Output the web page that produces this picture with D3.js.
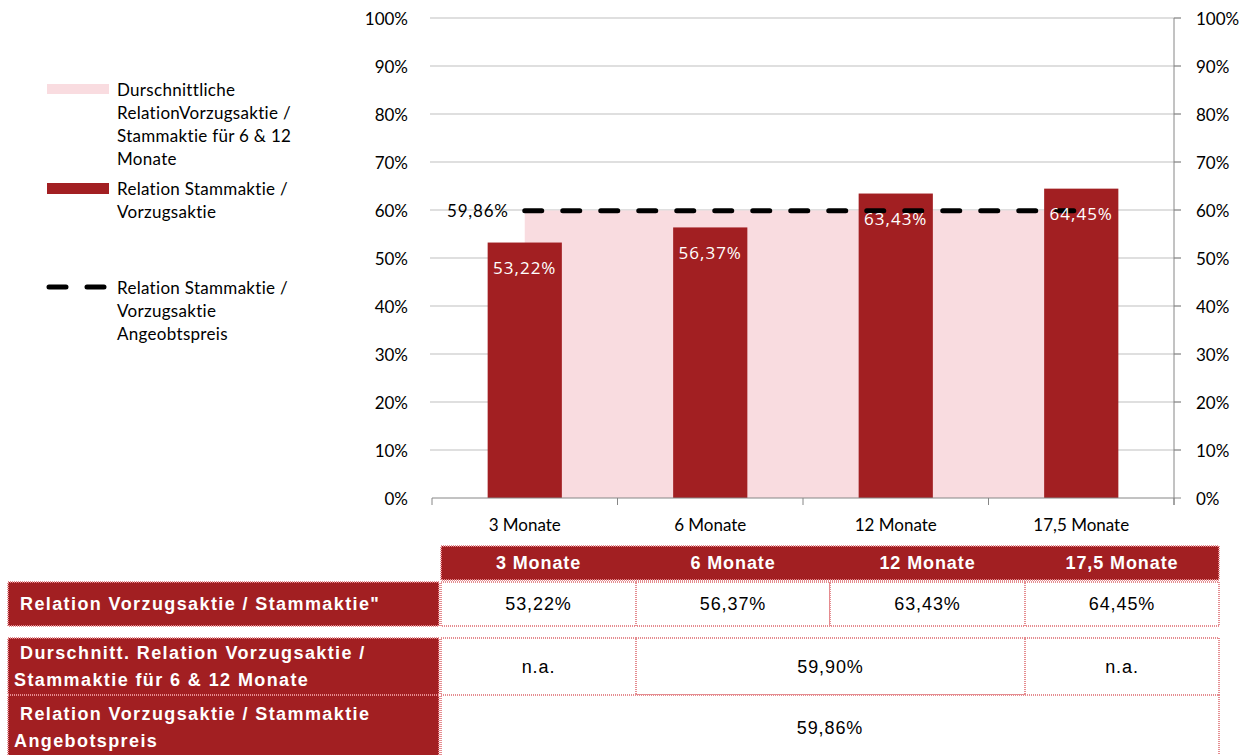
<!DOCTYPE html>
<html>
<head>
<meta charset="utf-8">
<script src="https://cdn.jsdelivr.net/npm/d3@7"></script>
<style>
  body { margin: 0; background: #fff; }
  svg { display: block; }
  .chart text { font-family: Lato, "Open Sans", sans-serif; font-size: 17px; fill: #000; }
  .chart text.barlabel { font-family: "Open Sans", sans-serif; font-size: 17px; letter-spacing: 1px; }
  .tbl text { font-family: "Liberation Sans", Arial, sans-serif; font-size: 18px; letter-spacing: 0.9px; }
  .tbl text.rowlabel { letter-spacing: 1.4px; }
</style>
</head>
<body>
<svg id="chart" width="1244" height="755"></svg>
<script>
const width = 1244;
const height = 755;

const categories = ['3 Monate', '6 Monate', '12 Monate', '17,5 Monate'];
const relationValues = [53.22, 56.37, 63.43, 64.45];
const avgValues = [59.90, 59.90, 59.90, 59.90];
const offerValues = [59.86, 59.86, 59.86, 59.86];
const yTicks = [0, 10, 20, 30, 40, 50, 60, 70, 80, 90, 100];

const legendLabels = [
    ['Durschnittliche', 'RelationVorzugsaktie /', 'Stammaktie für 6 & 12', 'Monate'],
    ['Relation Stammaktie /', 'Vorzugsaktie'],
    ['Relation Stammaktie /', 'Vorzugsaktie', 'Angeobtspreis']
];

const rowLabels = [
    ['Relation Vorzugsaktie / Stammaktie"'],
    ['Durschnitt. Relation Vorzugsaktie /', 'Stammaktie für 6 & 12 Monate'],
    ['Relation Vorzugsaktie / Stammaktie', 'Angebotspreis']
];
const avgTableCells = [
    { text: 'n.a.', from: 0, to: 0 },
    { text: '59,90%', from: 1, to: 2 },
    { text: 'n.a.', from: 3, to: 3 }
];
const offerTableCells = [
    { text: '59,86%', from: 0, to: 3 }
];

const red = '#A21F22';
const pink = '#F9DCE0';
const fmt = v => d3.format('.2f')(v).replace('.', ',') + '%';

const svg = d3.select('#chart');
const chart = svg.append('g').attr('class', 'chart');

const xScale = d3.scaleBand().domain(categories).range([432, 1174]).padding(0);
const yScale = d3.scaleLinear().domain([0, 100]).range([498, 18]);
const cx = c => xScale(c) + xScale.bandwidth() / 2;
const barWidth = xScale.bandwidth() * 0.4;

// gridlines
chart.selectAll('.grid')
    .data(yTicks.filter(t => t > 0))
    .enter()
    .append('line')
    .attr('x1', 430)
    .attr('x2', 1181)
    .attr('y1', d => yScale(d))
    .attr('y2', d => yScale(d))
    .attr('stroke', '#BFBFBF')
    .attr('stroke-width', 1);

// average area
chart.append('path')
    .datum(avgValues)
    .attr('fill', pink)
    .attr('d', d3.area()
        .x((d, i) => cx(categories[i]))
        .y0(yScale(0))
        .y1(d => yScale(d)));

// bars
chart.selectAll('.bar')
    .data(relationValues)
    .enter()
    .append('rect')
    .attr('x', (d, i) => cx(categories[i]) - barWidth / 2)
    .attr('y', d => yScale(d))
    .attr('width', barWidth)
    .attr('height', d => yScale(0) - yScale(d))
    .attr('fill', red);

// dashed offer line
chart.append('path')
    .datum(offerValues)
    .attr('fill', 'none')
    .attr('stroke', '#000')
    .attr('stroke-width', 5)
    .attr('stroke-linecap', 'round')
    .attr('stroke-dasharray', '17,21')
    .attr('d', d3.line()
        .x((d, i) => cx(categories[i]))
        .y(d => yScale(d)));

// bar labels
chart.selectAll('.barlabel')
    .data(relationValues)
    .enter()
    .append('text')
    .attr('class', 'barlabel')
    .attr('x', (d, i) => cx(categories[i]))
    .attr('y', d => yScale(d) + 25)
    .attr('text-anchor', 'middle')
    .attr('dominant-baseline', 'central')
    .style('fill', '#fff')
    .text(d => fmt(d));

chart.append('text')
    .attr('x', cx(categories[0]) - 16)
    .attr('y', yScale(offerValues[0]))
    .attr('text-anchor', 'end')
    .attr('dominant-baseline', 'central')
    .style('letter-spacing', '0.8px')
    .text(fmt(offerValues[0]));

// x axis
const xAxis = chart.append('g').attr('transform', `translate(0, ${yScale(0)})`);
xAxis.append('line').attr('x1', 432).attr('x2', 1174).attr('stroke', '#868686');
xAxis.selectAll('.xt')
    .data(d3.range(categories.length + 1))
    .enter()
    .append('line')
    .attr('x1', i => 432 + i * xScale.bandwidth())
    .attr('x2', i => 432 + i * xScale.bandwidth())
    .attr('y1', 0).attr('y2', 7)
    .attr('stroke', '#868686');
xAxis.selectAll('.xl')
    .data(categories)
    .enter()
    .append('text')
    .attr('x', d => cx(d))
    .attr('y', 26)
    .attr('text-anchor', 'middle')
    .attr('dominant-baseline', 'central')
    .text(d => d);

// left labels
chart.selectAll('.yl')
    .data(yTicks)
    .enter()
    .append('text')
    .attr('x', 408)
    .attr('y', d => yScale(d))
    .attr('text-anchor', 'end')
    .attr('dominant-baseline', 'central')
    .text(d => d + '%');

// right axis
chart.append('line')
    .attr('x1', 1174).attr('x2', 1174)
    .attr('y1', yScale(100)).attr('y2', yScale(0) + 7)
    .attr('stroke', '#868686');
chart.selectAll('.yrt')
    .data(yTicks)
    .enter()
    .append('line')
    .attr('x1', 1174).attr('x2', 1181)
    .attr('y1', d => yScale(d)).attr('y2', d => yScale(d))
    .attr('stroke', '#868686');
chart.selectAll('.yr')
    .data(yTicks)
    .enter()
    .append('text')
    .attr('x', 1196)
    .attr('y', d => yScale(d))
    .attr('dominant-baseline', 'central')
    .text(d => d + '%');

// legend
const legend = chart.append('g');
const legendY = [89, 188, 287];
legendLabels.forEach((lines, k) => {
    const g = legend.append('g').attr('transform', `translate(0, ${legendY[k]})`);
    if (k === 0) {
        g.append('rect').attr('x', 47).attr('y', -5).attr('width', 62).attr('height', 10).attr('fill', pink);
    } else if (k === 1) {
        g.append('rect').attr('x', 47).attr('y', -5).attr('width', 62).attr('height', 11).attr('fill', red);
    } else {
        g.append('line').attr('x1', 49).attr('x2', 107).attr('y1', 0).attr('y2', 0)
            .attr('stroke', '#000').attr('stroke-width', 5)
            .attr('stroke-linecap', 'round').attr('stroke-dasharray', '17,21');
    }
    g.selectAll('text')
        .data(lines)
        .enter()
        .append('text')
        .attr('x', 117)
        .attr('y', (d, i) => i * 23)
        .attr('dominant-baseline', 'central')
        .style('letter-spacing', '0.3px')
        .text(d => d);
});

// table
const tbl = svg.append('g').attr('class', 'tbl');
const colEdges = [441, 636, 830, 1025, 1219];
const border = '#E58C90';

function cell(x0, y0, x1, y1, fill) {
    tbl.append('rect')
        .attr('x', x0).attr('y', y0)
        .attr('width', x1 - x0).attr('height', y1 - y0)
        .attr('fill', fill)
        .attr('stroke', border)
        .attr('stroke-width', 2)
        .attr('stroke-dasharray', '1,1');
}
function label(x, y, txt, opts) {
    tbl.append('text')
        .attr('class', opts.cls || null)
        .attr('x', x).attr('y', y)
        .attr('text-anchor', opts.anchor || 'start')
        .attr('dominant-baseline', 'central')
        .style('fill', opts.color || '#000')
        .style('font-weight', opts.bold ? 'bold' : 'normal')
        .text(txt);
}

// header
cell(colEdges[0], 546, colEdges[4], 580, red);
categories.forEach((c, i) => {
    label((colEdges[i] + colEdges[i + 1]) / 2, 563, c, { anchor: 'middle', color: '#fff', bold: true });
});

const rows = [
    { y0: 582, y1: 626, cells: relationValues.map((v, i) => ({ text: fmt(v), from: i, to: i })) },
    { y0: 638, y1: 695, cells: avgTableCells },
    { y0: 695, y1: 760, cells: offerTableCells }
];
rows.forEach((r, k) => {
    cell(8, r.y0, 439, r.y1, red);
    const lines = rowLabels[k];
    const mid = (r.y0 + r.y1) / 2;
    lines.forEach((t, i) => {
        label(i === 0 ? 20 : 14, mid + (i - (lines.length - 1) / 2) * 27, t, { color: '#fff', bold: true, cls: 'rowlabel' });
    });
    r.cells.forEach(c => {
        cell(colEdges[c.from], r.y0, colEdges[c.to + 1], r.y1, '#fff');
        label((colEdges[c.from] + colEdges[c.to + 1]) / 2, mid, c.text, { anchor: 'middle' });
    });
});
</script>
</body>
</html>
